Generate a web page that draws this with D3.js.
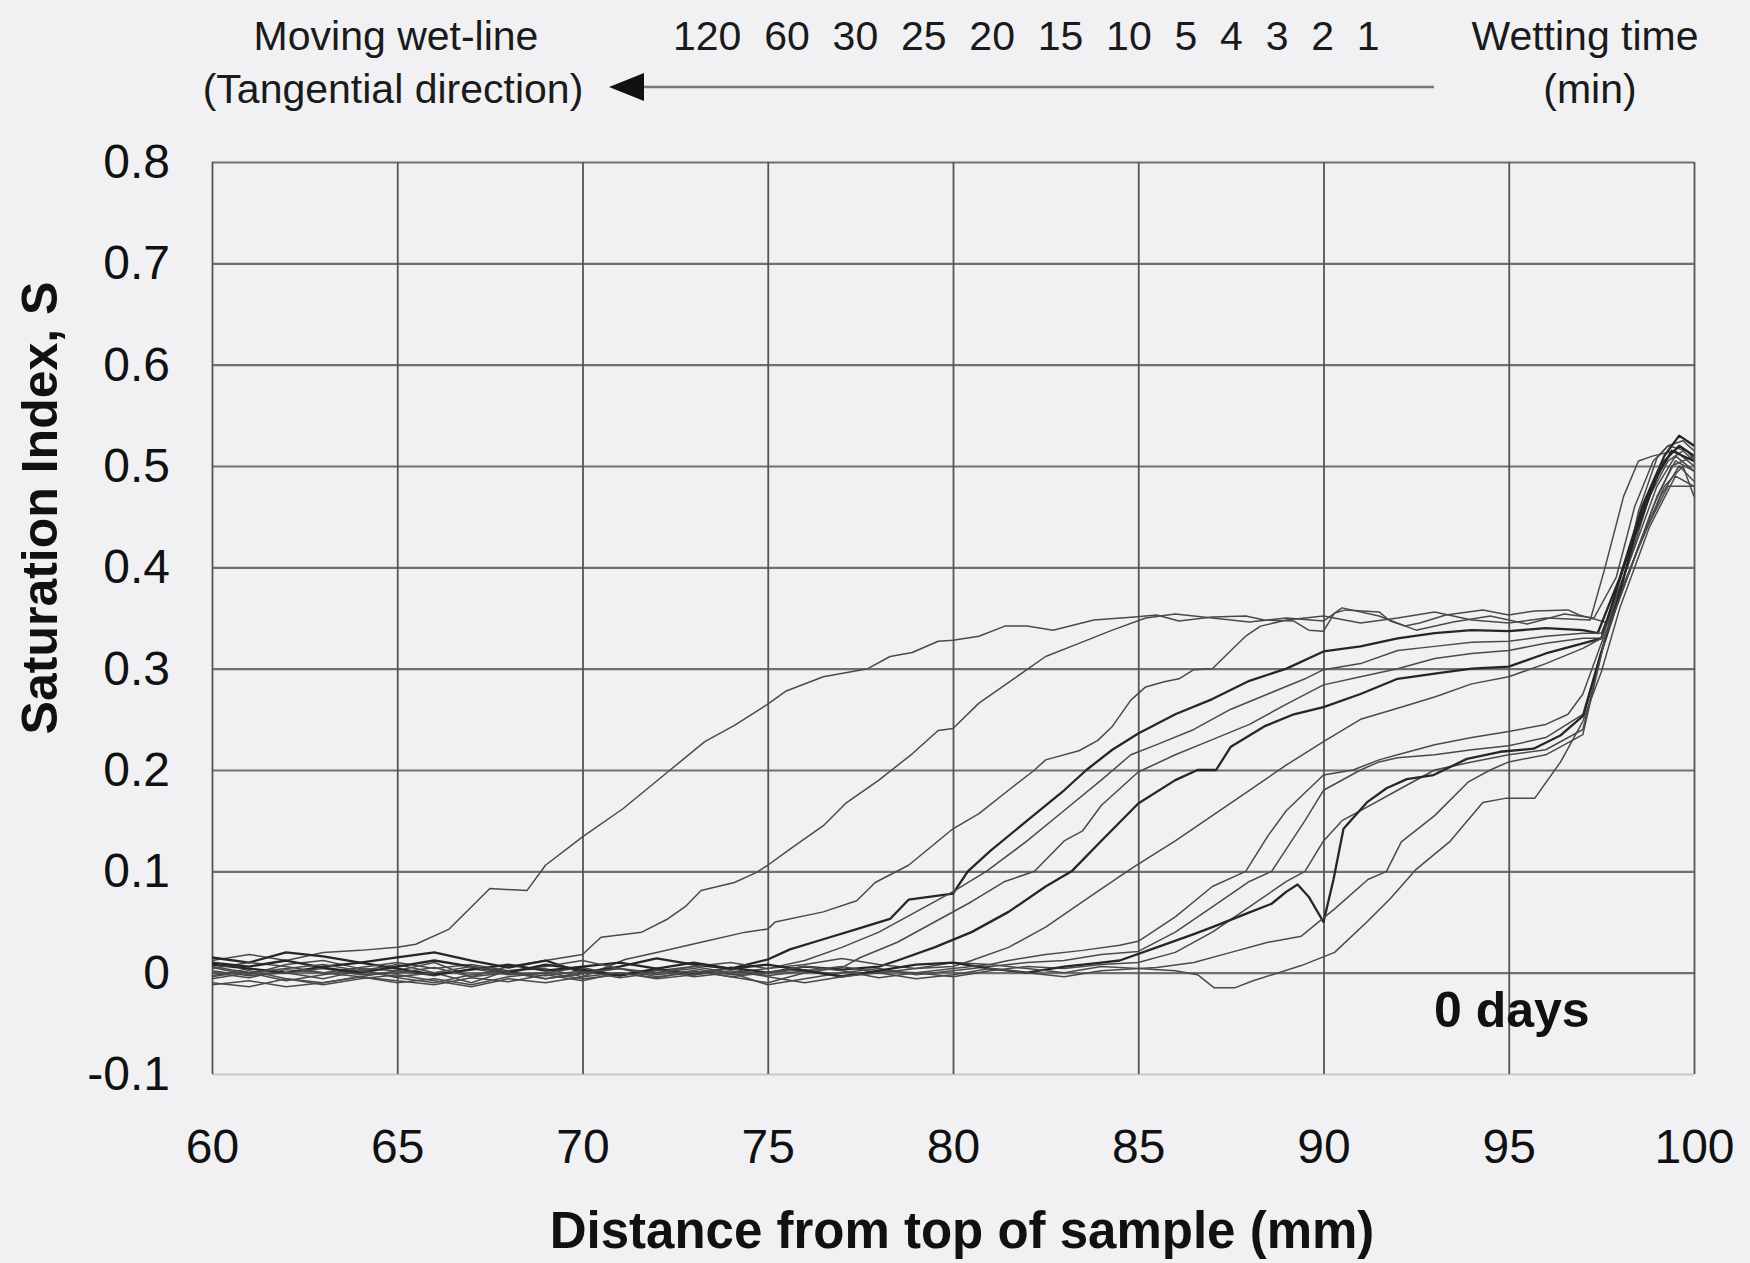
<!DOCTYPE html>
<html>
<head>
<meta charset="utf-8">
<script src="https://cdn.jsdelivr.net/npm/d3@7"></script>
<style>
  html, body { margin: 0; padding: 0; background: #f1f1f3; }
  svg { display: block; font-family: "Liberation Sans", Arial, sans-serif; }
</style>
</head>
<body>
<div id="chart"></div>
<script>
// wetting times (min), left to right as printed above the chart
const wettingTimes = [120, 60, 30, 25, 20, 15, 10, 5, 4, 3, 2, 1];
const xTicks = [60, 65, 70, 75, 80, 85, 90, 95, 100];
const yTicks = [-0.1, 0, 0.1, 0.2, 0.3, 0.4, 0.5, 0.6, 0.7, 0.8];

// saturation profiles [distance mm, S]
const s01 = [[60,0.012],[61,0.018],[62,0.012],[63,0.02],[64,0.022],[65,0.025],[65.5,0.028],[66.4,0.043],[67.5,0.083],[68.5,0.081],[69,0.106],[70,0.134],[71.1,0.162],[72.3,0.198],[73.3,0.228],[74.1,0.244],[75,0.265],[75.5,0.278],[76.5,0.292],[77.7,0.3],[78.3,0.312],[78.9,0.316],[79.6,0.327],[80,0.328],[80.7,0.332],[81.4,0.342],[82,0.342],[82.7,0.338],[83.8,0.348],[84.9,0.351],[85.5,0.353],[86.1,0.347],[87,0.351],[87.9,0.352],[88.4,0.348],[89.2,0.347],[89.6,0.338],[90,0.337],[90.3,0.355],[90.6,0.358],[91.5,0.356],[91.8,0.347],[92.2,0.342],[92.6,0.345],[93.3,0.353],[94.3,0.358],[95,0.353],[95.7,0.357],[96.6,0.358],[96.9,0.353],[97.7,0.345],[98.1,0.387],[98.5,0.455],[99,0.508],[99.3,0.52],[99.8,0.515],[100,0.507]];
const s02 = [[60,0.005],[61,-0.002],[62,0.008],[63,0.012],[64,0.004],[65,0.002],[66,0.01],[67,-0.004],[68,0.006],[69,0.012],[70,0.018],[70.5,0.035],[71.6,0.04],[72.3,0.053],[72.8,0.066],[73.2,0.081],[74.1,0.089],[74.7,0.099],[75,0.106],[75.6,0.122],[76.5,0.145],[77.1,0.167],[78,0.19],[78.9,0.216],[79.6,0.239],[80,0.241],[80.7,0.266],[81.6,0.289],[82.5,0.312],[83.4,0.325],[84.3,0.338],[85.2,0.35],[86,0.354],[87,0.35],[88,0.346],[89,0.35],[90,0.347],[90.5,0.36],[91.5,0.352],[92.5,0.338],[93.5,0.346],[94.5,0.352],[95.5,0.344],[96.5,0.354],[97.3,0.35],[97.9,0.39],[98.4,0.46],[98.9,0.505],[99.3,0.52],[99.7,0.525],[100,0.515]];
const s03 = [[60,-0.003],[61,0.004],[62,0],[63,-0.006],[64,0.002],[65,0.008],[66,0],[67,-0.01],[68,0.002],[69,0.004],[70,-0.004],[71.15,0.013],[72,0.02],[73.2,0.03],[74.4,0.04],[75,0.043],[75.2,0.05],[76.5,0.06],[77.4,0.071],[77.9,0.089],[78.8,0.106],[80,0.142],[80.7,0.157],[81.6,0.183],[82.2,0.2],[82.5,0.21],[83.4,0.219],[83.9,0.229],[84.3,0.243],[84.8,0.269],[85.2,0.282],[85.7,0.287],[86.1,0.29],[86.5,0.299],[87,0.3],[87.5,0.318],[87.9,0.332],[88.3,0.342],[89,0.348],[90,0.352],[91,0.345],[92,0.35],[93,0.356],[94,0.348],[95,0.345],[96,0.35],[97.2,0.348],[97.6,0.4],[98.1,0.47],[98.5,0.505],[98.9,0.51],[99.5,0.515],[100,0.5]];
const s04 = [[60,0.015],[61,0.01],[62,0.02],[63,0.016],[64,0.01],[65,0.015],[66,0.02],[67,0.012],[68,0.005],[69,0.012],[70,0],[71,0.006],[72,0.014],[73,0.008],[74,0.004],[75,0.013],[75.6,0.023],[76.5,0.033],[77.4,0.043],[78.3,0.053],[78.8,0.072],[80,0.078],[80.4,0.1],[81,0.12],[82,0.15],[83,0.18],[83.6,0.2],[84.3,0.22],[85,0.236],[86,0.255],[87,0.27],[88,0.288],[89,0.3],[90,0.317],[91,0.322],[92,0.33],[93,0.335],[94,0.338],[95,0.337],[96,0.34],[97,0.338],[97.4,0.335],[98,0.39],[98.6,0.46],[99.2,0.51],[99.6,0.53],[100,0.52]];
const s05 = [[60,0],[61,-0.005],[62,0.003],[63,0],[64,-0.004],[65,0.002],[66,-0.003],[67,0.004],[68,-0.002],[69,0],[70,0.005],[71,-0.003],[72,0.002],[73,0.006],[74,0],[75,0.004],[76,0.012],[77,0.025],[78,0.04],[79,0.06],[80,0.08],[80.9,0.1],[82,0.13],[83,0.16],[84,0.19],[84.8,0.215],[85.5,0.225],[86.5,0.24],[87.5,0.26],[88.5,0.275],[89.5,0.29],[90,0.299],[91,0.305],[92,0.318],[93,0.322],[94,0.326],[95,0.327],[96,0.332],[97,0.335],[97.5,0.335],[98.2,0.4],[98.8,0.47],[99.3,0.505],[99.7,0.515],[100,0.505]];
const s06 = [[60,-0.01],[61,-0.014],[62,-0.006],[63,-0.01],[64,-0.004],[65,-0.008],[66,-0.012],[67,-0.005],[68,-0.009],[69,-0.002],[70,-0.008],[71,0],[72,-0.005],[73,0.002],[74,-0.004],[75,-0.01],[76,0],[77,0.005],[77.5,0.015],[78.5,0.03],[79.5,0.05],[80.5,0.07],[81.4,0.09],[82.2,0.1],[83,0.13],[83.5,0.14],[84,0.165],[85,0.198],[86,0.215],[87,0.23],[88,0.245],[89,0.265],[90,0.284],[91,0.292],[92,0.3],[93,0.31],[94,0.315],[95,0.318],[96,0.325],[97,0.33],[97.5,0.33],[98.3,0.41],[99,0.48],[99.5,0.51],[100,0.495]];
const s07 = [[60,0.008],[61,0.004],[62,0],[63,0.006],[64,0.01],[65,0.004],[66,-0.002],[67,0.003],[68,0.008],[69,0.002],[70,0.006],[71,0.01],[72,0.004],[73,-0.002],[74,0.005],[75,0],[76,0.006],[77,0.003],[78,0.006],[78.5,0.012],[79.5,0.025],[80.5,0.04],[81.5,0.06],[82.5,0.085],[83.2,0.1],[84,0.13],[85,0.167],[86,0.19],[86.6,0.2],[87.1,0.2],[87.5,0.223],[88.4,0.243],[89.2,0.255],[90,0.262],[91,0.275],[92,0.29],[93,0.295],[94,0.3],[95,0.302],[96,0.315],[97,0.325],[97.5,0.33],[98.1,0.4],[98.7,0.465],[99.2,0.505],[99.6,0.52],[100,0.51]];
const s08 = [[60,-0.006],[61,0],[62,-0.008],[63,-0.002],[64,0.003],[65,-0.005],[66,-0.01],[67,-0.002],[68,0.002],[69,-0.006],[70,-0.001],[71,0.004],[72,-0.004],[73,0],[74,0.004],[75,-0.003],[76,0.002],[77,0.006],[78,0],[79,0.004],[80,0.006],[80.5,0.012],[81.5,0.025],[82.5,0.045],[83.5,0.07],[84.5,0.095],[85,0.107],[86,0.13],[87,0.155],[88,0.18],[89,0.205],[90,0.228],[91,0.25],[92,0.261],[93,0.272],[94,0.285],[95,0.292],[96,0.305],[97,0.32],[97.5,0.33],[98.4,0.41],[99.1,0.47],[99.6,0.5],[100,0.485]];
const s09 = [[60,0.004],[61,0.01],[62,0.006],[63,0],[64,0.005],[65,0.01],[66,0.004],[67,0.008],[68,0.002],[69,0.006],[70,0.012],[71,0.004],[72,0],[73,0.006],[74,0.01],[75,0.004],[76,0.008],[77,0.014],[78,0.008],[79,0.004],[80,0.01],[81,0.008],[81.5,0.012],[82.5,0.018],[83.5,0.022],[84.5,0.027],[85,0.031],[86,0.055],[87,0.085],[87.9,0.1],[88.5,0.135],[89,0.16],[90,0.195],[90.8,0.2],[91.5,0.21],[92,0.215],[93,0.225],[94,0.232],[95,0.238],[96,0.245],[96.6,0.255],[97,0.275],[97.5,0.325],[98.2,0.39],[98.9,0.46],[99.4,0.5],[100,0.51]];
const s10 = [[60,-0.012],[61,-0.008],[62,-0.014],[63,-0.01],[64,-0.004],[65,-0.01],[66,-0.006],[67,-0.012],[68,-0.004],[69,0],[70,-0.006],[71,-0.002],[72,0.003],[73,-0.004],[74,0],[75,-0.012],[76,-0.006],[77,0],[78,0.004],[79,-0.002],[80,0.002],[81,0.006],[82,0.01],[83,0.012],[84,0.018],[85,0.021],[86,0.04],[87,0.065],[88,0.09],[88.6,0.1],[89.5,0.15],[90,0.18],[91,0.2],[91.5,0.208],[92,0.212],[93,0.215],[94,0.22],[95,0.224],[96,0.232],[97,0.255],[97.6,0.33],[98.3,0.4],[99,0.47],[99.5,0.505],[100,0.495]];
const s11 = [[60,0.002],[61,-0.003],[62,0],[63,0.004],[64,-0.002],[65,0],[66,0.005],[67,-0.004],[68,0],[69,-0.003],[70,0.002],[71,-0.005],[72,0],[73,0.004],[74,-0.002],[75,0],[76,0.003],[77,-0.003],[78,0.002],[79,0],[80,-0.004],[81,0.002],[82,0.006],[83,0.004],[84,0.008],[85,0.01],[86,0.02],[87,0.04],[88,0.065],[89,0.09],[89.5,0.1],[90,0.13],[90.5,0.15],[91,0.16],[92,0.18],[93,0.2],[94,0.208],[95,0.215],[96,0.22],[97,0.24],[97.6,0.33],[98.5,0.42],[99.2,0.48],[99.7,0.5],[100,0.47]];
const s12 = [[60,0.01],[61,0.006],[62,0.012],[63,0.005],[64,0],[65,0.006],[66,0.012],[67,0.006],[68,0],[69,0.008],[70,0.003],[71,-0.003],[72,0.004],[73,0.01],[74,0.004],[75,0.008],[76,0.002],[77,-0.004],[78,0.002],[79,0.008],[80,0.01],[81,0.004],[82,0],[83,0.006],[84,0.01],[84.5,0.012],[85.5,0.025],[86.5,0.038],[87,0.045],[87.9,0.058],[88.6,0.068],[89,0.08],[89.3,0.087],[89.6,0.075],[90,0.05],[90.27,0.092],[90.54,0.142],[91.17,0.168],[91.7,0.182],[92.25,0.191],[92.97,0.195],[93.87,0.211],[94.77,0.218],[95.67,0.221],[96.39,0.234],[97.02,0.254],[97.47,0.313],[97.8,0.35],[98.4,0.43],[99,0.49],[99.4,0.515],[100,0.505]];
const s13 = [[60,-0.004],[61,0.002],[62,-0.006],[63,-0.012],[64,-0.006],[65,-0.002],[66,-0.008],[67,-0.014],[68,-0.006],[69,-0.01],[70,-0.004],[71,0],[72,-0.006],[73,-0.002],[74,0.002],[75,-0.004],[76,-0.01],[77,-0.004],[78,0],[79,-0.006],[80,-0.002],[81,0.004],[82,0],[83,-0.004],[84,0.002],[85,0.004],[85.5,0.005],[86.5,0.01],[87.5,0.02],[88.5,0.03],[89.4,0.036],[90.3,0.063],[91.2,0.092],[91.7,0.1],[92.1,0.129],[93,0.155],[93.9,0.188],[94.5,0.2],[95,0.208],[96,0.215],[97,0.235],[97.6,0.33],[98.6,0.43],[99.3,0.48],[100,0.48]];
const s14 = [[60,0.006],[61,0],[62,0.004],[63,0.008],[64,0.002],[65,-0.004],[66,0],[67,0.006],[68,0],[69,-0.006],[70,0],[71,0.004],[72,-0.002],[73,0.002],[74,-0.004],[75,0],[76,0.006],[77,0.002],[78,-0.005],[79,0],[80,0.004],[81,0.008],[82,0.004],[83,0],[84,0.006],[85,0.004],[86,0.002],[86.6,-0.002],[87.05,-0.015],[87.6,-0.015],[88.1,-0.008],[89.4,0.007],[90.3,0.02],[91.17,0.05],[91.8,0.073],[92.5,0.102],[93.4,0.129],[94.3,0.168],[94.9,0.172],[95.7,0.172],[96.4,0.208],[97,0.248],[97.5,0.297],[98,0.36],[98.8,0.44],[99.5,0.49],[100,0.48]];

const profiles = [s01, s02, s03, s04, s05, s06, s07, s08, s09, s10, s11, s12, s13, s14];
const heavy = [s04, s07, s12]; // darker traces in the scan

const W = 1750, H = 1263;
const plotLeft = 212, plotRight = 1694, plotTop = 162, plotBottom = 1074;
const font = "'Liberation Sans', Arial, sans-serif";

const svg = d3.select("#chart").append("svg")
	.attr("width", W)
	.attr("height", H);

const x = d3.scaleLinear().domain([60, 100]).range([plotLeft, plotRight]);
const y = d3.scaleLinear().domain([-0.1, 0.8]).range([plotBottom, plotTop]);

//grid + y labels
const yAxis = svg.append("g")
	.attr("transform", "translate(" + plotLeft + ",0)")
	.call(d3.axisLeft(y)
		.tickValues(yTicks)
		.tickSize(-(plotRight - plotLeft))
		.tickPadding(42)
		.tickFormat(d => d === 0 ? "0" : d3.format(".1f")(d).replace("\u2212", "-")));
yAxis.select(".domain").remove();
yAxis.selectAll("line")
	.attr("stroke", d => d === -0.1 ? "#c9c9cc" : "#707072")
	.attr("stroke-width", 2.2);
yAxis.selectAll("text")
	.attr("font-family", font)
	.attr("font-size", 48)
	.attr("fill", "#111");

//grid + x labels
const xAxis = svg.append("g")
	.attr("transform", "translate(0," + plotBottom + ")")
	.call(d3.axisBottom(x)
		.tickValues(xTicks)
		.tickSize(-(plotBottom - plotTop))
		.tickPadding(55));
xAxis.select(".domain").remove();
xAxis.selectAll("line")
	.attr("stroke", "#555557")
	.attr("stroke-width", 1.8);
xAxis.selectAll("text")
	.attr("font-family", font)
	.attr("font-size", 48)
	.attr("fill", "#111");

svg.append("clipPath").attr("id", "plot-clip")
	.append("rect")
	.attr("x", plotLeft).attr("y", plotTop)
	.attr("width", plotRight - plotLeft).attr("height", plotBottom - plotTop);

const line = d3.line()
	.x(d => x(d[0]))
	.y(d => y(d[1]));

svg.append("g")
	.attr("clip-path", "url(#plot-clip)")
	.selectAll("path")
	.data(profiles)
	.enter()
	.append("path")
	.attr("d", line)
	.attr("fill", "none")
	.attr("stroke", d => heavy.includes(d) ? "#262628" : "#4a4a4d")
	.attr("stroke-width", d => heavy.includes(d) ? 2.3 : 1.5)
	.attr("stroke-linejoin", "round");

// axis titles
svg.append("text")
	.attr("x", 962)
	.attr("y", 1248)
	.attr("text-anchor", "middle")
	.attr("font-family", font)
	.attr("font-size", 51)
	.attr("font-weight", "bold")
	.attr("fill", "#111")
	.text("Distance from top of sample (mm)");

svg.append("text")
	.attr("transform", "translate(40," + 508 + ") rotate(-90)")
	.attr("text-anchor", "middle")
	.attr("dominant-baseline", "central")
	.attr("font-family", font)
	.attr("font-size", 50)
	.attr("font-weight", "bold")
	.attr("fill", "#111")
	.text("Saturation Index, S");

svg.append("text")
	.attr("x", 1434)
	.attr("y", 1027)
	.attr("font-family", font)
	.attr("font-size", 50)
	.attr("font-weight", "bold")
	.attr("fill", "#111")
	.text("0 days");

// header annotation
const header = svg.append("g")
	.attr("font-family", font)
	.attr("font-size", 41)
	.attr("fill", "#1a1a1a");

header.append("text").attr("x", 396).attr("y", 50).attr("text-anchor", "middle").text("Moving wet-line");
header.append("text").attr("x", 393).attr("y", 103).attr("text-anchor", "middle").text("(Tangential direction)");
header.append("text").attr("x", 1585).attr("y", 50).attr("text-anchor", "middle").text("Wetting time");
header.append("text").attr("x", 1590).attr("y", 103).attr("text-anchor", "middle").text("(min)");

header.append("text")
	.attr("x", 673)
	.attr("y", 50)
	.style("white-space", "pre")
	.text(wettingTimes.join("  "));

svg.append("line")
	.attr("x1", 1434).attr("y1", 87)
	.attr("x2", 636).attr("y2", 87)
	.attr("stroke", "#7a7a7c")
	.attr("stroke-width", 2.5);

svg.append("path")
	.attr("d", "M609,87 L644,73 L644,101 Z")
	.attr("fill", "#111");
</script>
</body>
</html>
